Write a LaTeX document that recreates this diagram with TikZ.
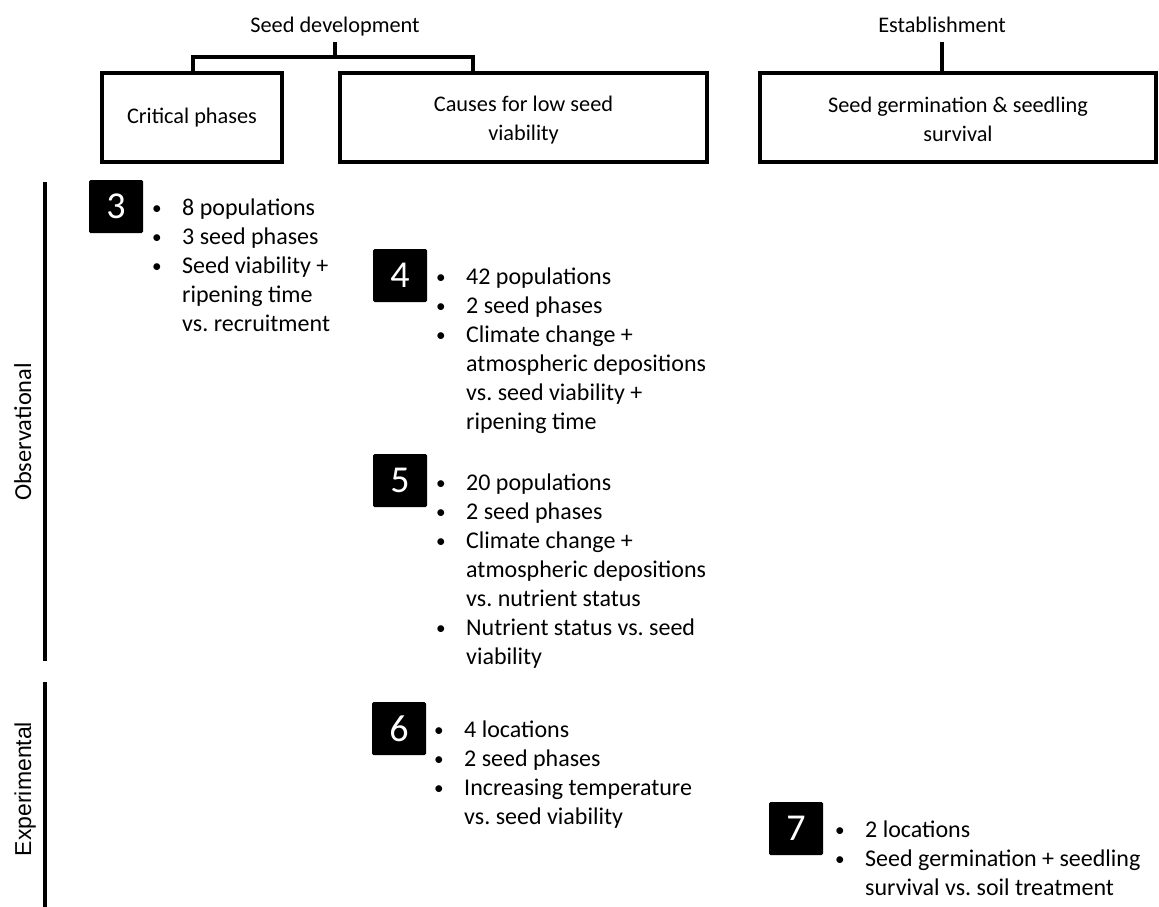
\documentclass[tikz,border=0pt]{standalone}
\usepackage{fontspec}
\setmainfont{Carlito}
\newfontfamily\arialf{Liberation Sans}
\frenchspacing
\begin{document}
\begin{tikzpicture}[x=1pt,y=-1pt,
  txt/.style={font=\fontsize{24}{29}\selectfont, inner sep=0pt},
  hdr/.style={font=\fontsize{22.3}{29}\selectfont, inner sep=0pt},
  hdrbox/.style={draw, line width=4pt, align=center, font=\fontsize{22.3}{29}\selectfont, inner sep=0pt, minimum height=89pt},
  numbox/.style={fill=black, text=white, minimum width=54pt, minimum height=53pt, inner sep=0pt, rounded corners=1.5pt, font=\fontsize{38}{38}\selectfont},
  blist/.style={txt, anchor=base west, align=left},
  conn/.style={line width=4pt},
  side/.style={line width=4pt}
]
\useasboundingbox (0,0) rectangle (1159,907);
\newcommand{\bl}{\makebox[31pt][l]{\hspace{1pt}\raisebox{1pt}{\scalebox{0.8}{\textbullet}}}}
\newcommand{\cn}{\hspace*{31pt}}

% headers
\node[hdr, anchor=base] (sd) at (335,33) {Seed development};
\node[hdr, anchor=base] (est) at (942,33) {Establishment};

% boxes
\node[hdrbox, minimum width=180pt] (cp) at (192,117.5) {Critical phases};
\node[hdrbox, minimum width=367pt] (cl) at (523.5,117.5) {\rule{0pt}{20pt}Causes for low seed\\viability};
\node[hdrbox, minimum width=396pt] (sg) at (958,117.5) {\rule{0pt}{20pt}Seed germination \& seedling\\survival};

% connectors
\coordinate (sdb) at (335,42);
\coordinate (bar) at (335,57);
\draw[conn] (sdb) -- (bar);
\draw[conn, line join=miter] (193,0 |- cp.north) |- (bar) -| (473,0 |- cl.north);
\coordinate (estb) at (942,42);
\draw[conn] (estb) -- (est.south |- sg.north);

% side labels
\coordinate (o1) at (45,182);
\coordinate (o2) at (45,661);
\coordinate (e1) at (45,682);
\coordinate (e2) at (45,907);
\draw[side] (o1) -- (o2);
\draw[side] (e1) -- (e2);
\node[txt, rotate=90, anchor=base, font=\fontsize{24.4}{29}\selectfont] (obs) at (31,432) {Observational};
\node[hdr, rotate=90, anchor=base, font=\arialf\fontsize{23}{26}\selectfont] (exp) at (31,789) {Experimental};

% study 3 (anchor = baseline of last line)
\node[numbox] (n3) at (116,206.5) {3};
\node[blist] (l3) at (151,331) {\bl 8 populations\\\bl 3 seed phases\\\bl Seed viability +\\\cn ripening time\\\cn vs. recruitment};

% study 4
\node[numbox] (n4) at (400,275.5) {4};
\node[blist] (l4) at (435,429) {\bl 42 populations\\\bl 2 seed phases\\\bl Climate change +\\\cn atmospheric depositions\\\cn vs. seed viability +\\\cn ripening time};

% study 5
\node[numbox] (n5) at (400,480.5) {5};
\node[blist] (l5) at (435,664) {\bl 20 populations\\\bl 2 seed phases\\\bl Climate change +\\\cn atmospheric depositions\\\cn vs. nutrient status\\\bl Nutrient status vs. seed\\\cn viability};

% study 6
\node[numbox] (n6) at (399,728.5) {6};
\node[blist] (l6) at (433,824) {\bl 4 locations\\\bl 2 seed phases\\\bl Increasing temperature\\\cn vs. seed viability};

% study 7
\node[numbox] (n7) at (796,828.5) {7};
\node[blist] (l7) at (834,895) {\bl 2 locations\\\bl Seed germination + seedling\\\cn survival vs. soil treatment};
\end{tikzpicture}
\end{document}
